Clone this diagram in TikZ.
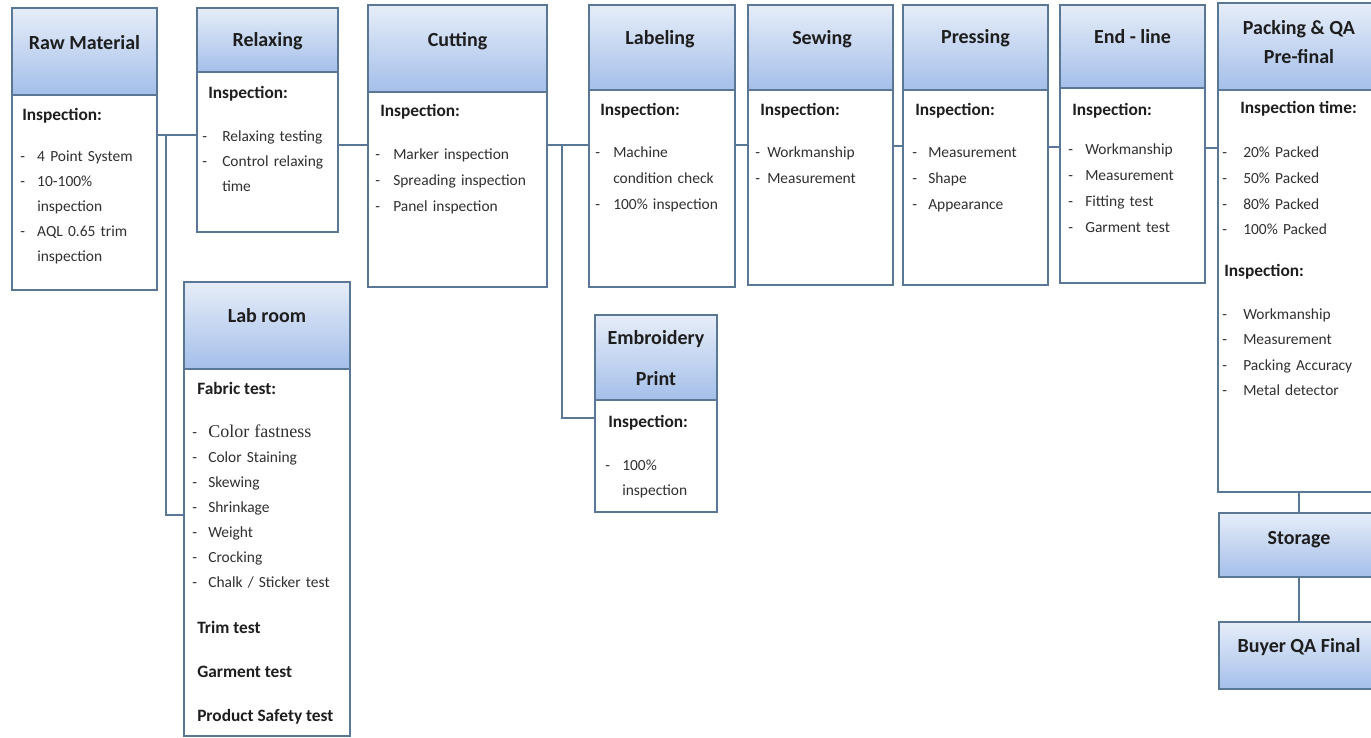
\documentclass[tikz,border=0pt]{standalone}
\usepackage{fontspec}
\setmainfont{Carlito}
\newfontfamily\serifcf{Liberation Serif}
\usetikzlibrary{fit}
\definecolor{ln}{HTML}{5A7896}
\definecolor{htop}{HTML}{E6EDF8}
\definecolor{hbot}{HTML}{A4BFEA}
\definecolor{txt}{HTML}{1E1E1E}
\definecolor{itx}{HTML}{303030}
\newcommand\dl[2]{\makebox[#1][l]{-}#2}
\newcommand\cl[2]{\hspace*{#1}#2}
\tikzset{
 hdr/.style={draw=ln, line width=1.9pt, top color=htop, bottom color=hbot, inner sep=0pt, rectangle},
 bdy/.style={draw=ln, line width=1.9pt, fill=white, inner sep=0pt, rectangle},
 conn/.style={draw=ln, line width=1.9pt},
 ttl/.style={font=\fontsize{15}{22}\selectfont\bfseries, text=txt, anchor=base, inner sep=0pt},
 sub/.style={font=\fontsize{13}{18}\selectfont\bfseries, text=txt, anchor=base west, inner sep=0pt},
 lst/.style={font=\fontsize{11.6}{18.75}\selectfont, text=itx, anchor=base west, inner sep=0pt, text width=220pt, align=left},
}
\begin{document}
\begin{tikzpicture}[x=0.75pt,y=-0.75pt]
\useasboundingbox (0,0) rectangle (1371,738);
\clip (0,0) rectangle (1371,738);
\fill[white] (0,0) rectangle (1371,738);
% ---------- boxes ----------
% Raw Material
\node[hdr, fit={(12,8)(157,95)}] (rmh) {};
\node[bdy, fit={(12,95)(157,290)}] (rmb) {};
% Relaxing
\node[hdr, fit={(197,8)(338,72)}] (rxh) {};
\node[bdy, fit={(197,72)(338,232)}] (rxb) {};
% Cutting
\node[hdr, fit={(368,5)(547,92)}] (cth) {};
\node[bdy, fit={(368,92)(547,287)}] (ctb) {};
% Labeling
\node[hdr, fit={(589,5)(735,90)}] (lah) {};
\node[bdy, fit={(589,90)(735,287)}] (lab) {};
% Sewing
\node[hdr, fit={(748,5)(893,90)}] (swh) {};
\node[bdy, fit={(748,90)(893,285)}] (swb) {};
% Pressing
\node[hdr, fit={(903,5)(1048,90)}] (prh) {};
\node[bdy, fit={(903,90)(1048,285)}] (prb) {};
% End-line
\node[hdr, fit={(1060,5)(1205,88)}] (elh) {};
\node[bdy, fit={(1060,88)(1205,283)}] (elb) {};
% Packing
\node[hdr, fit={(1218,3)(1385,90)}] (pkh) {};
\node[bdy, fit={(1218,90)(1385,492)}] (pkb) {};
% Storage, Buyer
\node[hdr, fit={(1219,513)(1385,577)}] (sth) {};
\node[hdr, fit={(1219,622)(1385,689)}] (byh) {};
% Lab room
\node[hdr, fit={(184,282)(350,369)}] (lrh) {};
\node[bdy, fit={(184,369)(350,736)}] (lrb) {};
% Embroidery
\node[hdr, fit={(595,315)(717,400)}] (emh) {};
\node[bdy, fit={(595,400)(717,512)}] (emb) {};
% ---------- connectors ----------
\coordinate (j1) at (166,135);
\draw[conn] (rmb.east |- j1) -- (rxb.west |- j1);
\draw[conn] (j1) -- (166,515) -- (lrb.west |- 0,515);
\draw[conn] (rxb.east |- 0,145) -- (ctb.west |- 0,145);
\coordinate (j2) at (562,145);
\draw[conn] (ctb.east |- j2) -- (lab.west |- j2);
\draw[conn] (j2) -- (562,418) -- (emb.west |- 0,418);
\draw[conn] (lab.east |- 0,145) -- (swb.west |- 0,145);
\draw[conn] (swb.east |- 0,146) -- (prb.west |- 0,146);
\draw[conn] (prb.east |- 0,147) -- (elb.west |- 0,147);
\draw[conn] (elb.east |- 0,148) -- (pkb.west |- 0,148);
\draw[conn] (pkb.south -| 1299,0) -- (sth.north -| 1299,0);
\draw[conn] (sth.south -| 1299,0) -- (byh.north -| 1299,0);
% ---------- titles ----------
\node[ttl] (t1) at (84.5,50) {Raw Material};
\node[ttl] (t2) at (267.5,47) {Relaxing};
\node[ttl] (t3) at (457.5,47) {Cutting};
\node[ttl] (t4) at (660,45) {Labeling};
\node[ttl] (t5) at (822,45) {Sewing};
\node[ttl] (t6) at (975.5,44) {Pressing};
\node[ttl] (t7) at (1132.5,44) {End - line};
\node[ttl] (t8a) at (1299,35) {Packing \& QA};
\node[ttl] (t8b) at (1299,64) {Pre-final};
\node[ttl] (t9) at (1299,544) {Storage};
\node[ttl] (t10) at (1299,652) {Buyer QA Final};
\node[ttl] (t11) at (267,322) {Lab room};
\node[ttl] (t12a) at (656,344) {Embroidery};
\node[ttl] (t12b) at (656,385) {Print};
% ---------- contents ----------
% Raw Material
\node[sub] (s1) at (22,121) {Inspection:};
\node[lst] (l1) at (20,162) {\dl{12.75pt}{4 Point System}\\ \dl{12.75pt}{10-100\%}\\ \cl{12.75pt}{inspection}\\ \dl{12.75pt}{AQL 0.65 trim}\\ \cl{12.75pt}{inspection}};
% Relaxing
\node[sub] (s2) at (208,99) {Inspection:};
\node[lst] (l2) at (202,142) {\dl{15pt}{Relaxing testing}\\ \dl{15pt}{Control relaxing}\\ \cl{15pt}{time}};
% Cutting
\node[sub] (s3) at (380,117) {Inspection:};
\node[lst, font=\fontsize{11.6}{19.5}\selectfont] (l3) at (375,160) {\dl{13.5pt}{Marker inspection}\\ \dl{13.5pt}{Spreading inspection}\\ \dl{13.5pt}{Panel inspection}};
% Labeling
\node[sub] (s4) at (600,116) {Inspection:};
\node[lst, font=\fontsize{11.6}{19.5}\selectfont] (l4) at (595,158) {\dl{13.5pt}{Machine}\\ \cl{13.5pt}{condition check}\\ \dl{13.5pt}{100\% inspection}};
% Sewing
\node[sub] (s5) at (760,116) {Inspection:};
\node[lst, font=\fontsize{11.6}{19.5}\selectfont] (l5) at (755,158) {\dl{9pt}{Workmanship}\\ \dl{9pt}{Measurement}};
% Pressing
\node[sub] (s6) at (915,116) {Inspection:};
\node[lst, font=\fontsize{11.6}{19.5}\selectfont] (l6) at (912,158) {\dl{12pt}{Measurement}\\ \dl{12pt}{Shape}\\ \dl{12pt}{Appearance}};
% End-line
\node[sub] (s7) at (1072,116) {Inspection:};
\node[lst, font=\fontsize{11.6}{19.5}\selectfont] (l7) at (1068,155) {\dl{12.75pt}{Workmanship}\\ \dl{12.75pt}{Measurement}\\ \dl{12.75pt}{Fitting test}\\ \dl{12.75pt}{Garment test}};
% Packing
\node[sub] (s8) at (1240,114) {Inspection time:};
\node[lst, font=\fontsize{11.6}{19.2}\selectfont] (l8) at (1222,158) {\dl{15.75pt}{20\% Packed}\\ \dl{15.75pt}{50\% Packed}\\ \dl{15.75pt}{80\% Packed}\\ \dl{15.75pt}{100\% Packed}};
\node[sub] (s9) at (1224,276) {Inspection:};
\node[lst, font=\fontsize{11.6}{19.2}\selectfont] (l9) at (1222,319) {\dl{15.75pt}{Workmanship}\\ \dl{15.75pt}{Measurement}\\ \dl{15.75pt}{Packing Accuracy}\\ \dl{15.75pt}{Metal detector}};
% Embroidery
\node[sub] (s10) at (608,427) {Inspection:};
\node[lst] (l10) at (605,470) {\dl{12.75pt}{100\%}\\ \cl{12.75pt}{inspection}};
% Lab room
\node[sub] (s11) at (197,394) {Fabric test:};
\node[lst] (l11a) at (192,437) {\dl{12pt}{{\serifcf\fontsize{13.5}{18}\selectfont Color fastness}}};
\node[lst] (l11) at (192,462) {\dl{12pt}{Color Staining}\\ \dl{12pt}{Skewing}\\ \dl{12pt}{Shrinkage}\\ \dl{12pt}{Weight}\\ \dl{12pt}{Crocking}\\ \dl{12pt}{Chalk / Sticker test}};
\node[sub] (s12) at (197,633) {Trim test};
\node[sub] (s13) at (197,677) {Garment test};
\node[sub] (s14) at (197,721) {Product Safety test};
\end{tikzpicture}
\end{document}
